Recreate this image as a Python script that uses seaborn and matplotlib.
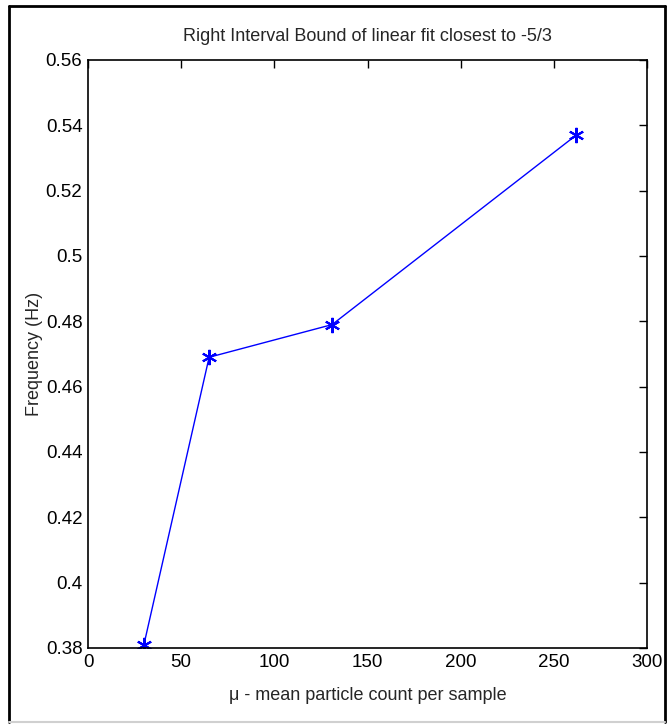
import matplotlib
matplotlib.use("Agg")
import matplotlib.pyplot as plt
from matplotlib.lines import Line2D
import seaborn as sns
import pandas as pd

# Mean particle count per sample and right interval bound (Hz)
mu = [30, 65, 131, 262]
freq = [0.381, 0.469, 0.479, 0.537]

x_ticks = [0, 50, 100, 150, 200, 250, 300]
y_ticks = [0.38, 0.40, 0.42, 0.44, 0.46, 0.48, 0.50, 0.52, 0.54, 0.56]
y_tick_labels = ["0.38", "0.4", "0.42", "0.44", "0.46", "0.48", "0.5", "0.52", "0.54", "0.56"]

sns.set_style("white")
plt.rcParams["font.family"] = ["Liberation Sans Narrow", "Liberation Sans", "DejaVu Sans"]

W, H = 669, 726
fig = plt.figure(figsize=(W / 100, H / 100), dpi=100)
ax = fig.add_axes([88 / W, 1 - 648 / H, (647 - 88) / W, (648 - 60) / H])

df = pd.DataFrame({"mu": mu, "freq": freq})
sns.lineplot(data=df, x="mu", y="freq", ax=ax, color="#0000ff", lw=1.0,
             marker=(6, 2, 0), markersize=11, markeredgewidth=1.5,
             markeredgecolor="#0000ff", estimator=None, sort=False)

ax.set_xlim(0, 300)
ax.set_ylim(0.38, 0.56)
ax.set_xticks(x_ticks)
ax.set_xticklabels([str(t) for t in x_ticks])
ax.set_yticks(y_ticks)
ax.set_yticklabels(y_tick_labels)
ax.tick_params(direction="in", length=6, width=1, top=True, right=True,
               labelsize=13.5, colors="black", pad=4)
for s in ax.spines.values():
    s.set_color("black")
    s.set_linewidth(1.2)

ax.set_title("Right Interval Bound of linear fit closest to -5/3", fontsize=13, pad=14)
ax.set_xlabel("\u03bc - mean particle count per sample", fontsize=13, labelpad=12)
ax.set_ylabel("Frequency (Hz)", fontsize=13)
ax.yaxis.set_label_coords((43 - 88) / (647 - 88), 0.5)

# Outer frame around the figure
def fl(x0, y0, x1, y1, c="black", lw=2):
    fig.add_artist(Line2D([x0 / W, x1 / W], [1 - y0 / H, 1 - y1 / H], color=c, lw=lw))

fl(9, 6, 665, 6)
fl(9, 6, 9, 722)
fl(665, 6, 665, 722)
fl(9, 722, 665, 722, c="#d0d0d0", lw=1.5)

fig.savefig("out.png", dpi=100)
